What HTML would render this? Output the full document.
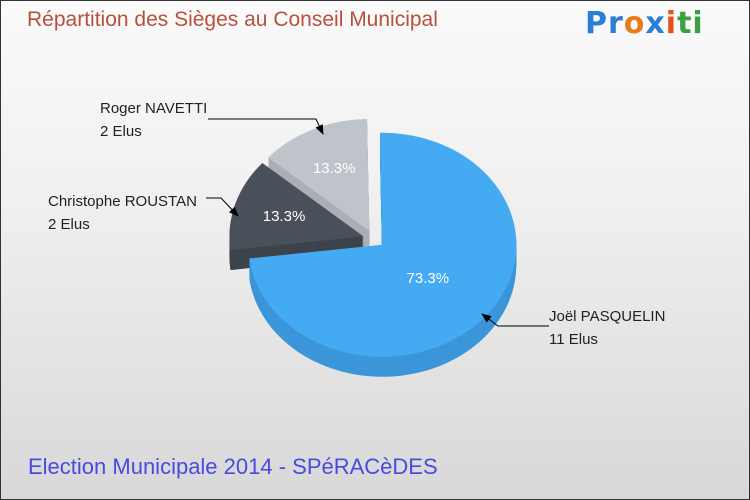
<!DOCTYPE html>
<html><head><meta charset="utf-8"><style>
html,body{margin:0;padding:0}
#c{position:relative;width:748px;height:498px;border:1px solid #333;background:linear-gradient(#fafafa,#f0f0f0 40%,#d8d8d8);overflow:hidden;font-family:"Liberation Sans",sans-serif}
.t{position:absolute;white-space:nowrap}
</style></head><body>
<div id="c">
<div class="t" style="left:26px;top:7px;font-size:21px;color:#b8503c">Répartition des Sièges au Conseil Municipal</div>
<div class="t" style="left:584px;top:5px;font-size:30px;font-weight:bold;font-family:'DejaVu Sans',sans-serif;letter-spacing:1px"><span style="color:#2a7fd4">Pr</span><span style="color:#e87a1a">o</span><span style="color:#2a7fd4">x</span><span style="color:#e8501a">i</span><span style="color:#3aa040">ti</span></div>
<div class="t" style="left:27px;top:453px;font-size:22px;color:#4a4ae0">Election Municipale 2014 - SPéRACèDES</div>
<svg id="s" width="748" height="498" style="position:absolute;left:0;top:0">
<defs><marker id="ar" markerWidth="10" markerHeight="8" refX="9" refY="4" orient="auto"><path d="M0,0L10,4L0,8z" fill="#000"/></marker></defs>
</svg>
<div class="t" style="left:99px;top:96px;font-size:15px;color:#222;line-height:23px">Roger NAVETTI<br>2 Elus</div>
<div class="t" style="left:47px;top:189px;font-size:15px;color:#222;line-height:23px">Christophe ROUSTAN<br>2 Elus</div>
<div class="t" style="left:548px;top:304px;font-size:15px;color:#222;line-height:23px">Joël PASQUELIN<br>11 Elus</div>
</div>
<script>
const names=["Joël PASQUELIN","Christophe ROUSTAN","Roger NAVETTI"];
const seats=[11,2,2];
const colors=["#44aaf2","#4a5059","#bec4ca"];
const sides=["#3b96d8","#3d434b","#a9afb5"];
const s=document.getElementById('s');const NS="http://www.w3.org/2000/svg";
const cx=373,cy=238,rx=134,ry=112,depth=20,expl=11,start=-91;
const total=seats.reduce((a,b)=>a+b,0);
let a=start;const sl=[];
seats.forEach((v,i)=>{const sw=v/total*360;sl.push({i,a0:a,a1:a+sw});a+=sw;});
function path(o,dx,dy){const r=Math.PI/180;const x=cx+dx,y=cy+dy;
 const p0=[x+rx*Math.cos(o.a0*r),y+ry*Math.sin(o.a0*r)],p1=[x+rx*Math.cos(o.a1*r),y+ry*Math.sin(o.a1*r)];
 return `M${x},${y}L${p0[0]},${p0[1]}A${rx},${ry} 0 ${o.a1-o.a0>180?1:0} 1 ${p1[0]},${p1[1]}Z`;}
[2,1,0].forEach(k=>{const o=sl[k];const m=(o.a0+o.a1)/2*Math.PI/180;
 const dx=expl*Math.cos(m),dy=expl*0.8*Math.sin(m);
 const g=document.createElementNS(NS,'g');
 
 
 for(let d=depth;d>0;d-=1){const p=document.createElementNS(NS,'path');p.setAttribute('d',path(o,dx,dy+d));p.setAttribute('fill',sides[k]);g.appendChild(p);}
 const top=document.createElementNS(NS,'path');top.setAttribute('d',path(o,dx,dy));top.setAttribute('fill',colors[k]);g.appendChild(top);
 const t=document.createElementNS(NS,'text');
 const lr=o.a1-o.a0>180?0.45:0.62;
 t.setAttribute('x',cx+dx+rx*lr*Math.cos(m));t.setAttribute('y',cy+dy+ry*lr*Math.sin(m)+5);
 t.setAttribute('text-anchor','middle');t.setAttribute('font-size','15');t.setAttribute('fill','#fff');t.setAttribute('font-family','Liberation Sans, sans-serif');
 t.textContent=(seats[k]/total*100).toFixed(1)+'%';
 g.appendChild(t);s.appendChild(g);});
const lines=[["M207,118L315,118L322,133","leader-roger"],["M205,197L220,197L237,215","leader-christophe"],["M548,325L497,325L481,313","leader-joel"]];
lines.forEach(l=>{const p=document.createElementNS(NS,'path');p.setAttribute('d',l[0]);p.setAttribute('fill','none');p.setAttribute('stroke','#000');p.setAttribute('marker-end','url(#ar)');


s.appendChild(p);});
</script>
</body></html>
